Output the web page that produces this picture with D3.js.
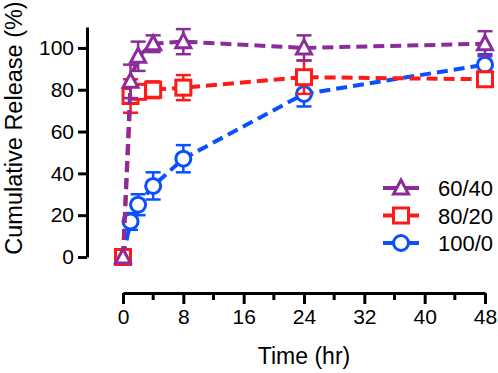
<!DOCTYPE html>
<html>
<head>
<meta charset="utf-8">
<script src="https://cdn.jsdelivr.net/npm/d3@7"></script>
<style>
  body { margin: 0; background: #fff; }
  text { font-family: "Liberation Sans", Arial, sans-serif; fill: #000; }
</style>
</head>
<body>
<div id="chart"></div>
<script>
// time points (hr)
const times = [0, 1, 2, 4, 8, 24, 48];

// series values (mean, sd)
const release6040 = [0, 84, 96, 102, 103, 100, 102];
const sd6040 = [0, 8, 7, 4, 6, 6, 6];
const release8020 = [0, 77, 79, 80, 81, 86, 85];
const sd8020 = [0, 8, 3, 4, 6, 8, 3];
const release1000 = [0, 17, 25, 34, 47, 78, 92];
const sd1000 = [0, 4, 5, 6.5, 6.5, 6, 5];

const seriesNames = ["60/40", "80/20", "100/0"];
const xTicks = [0, 8, 16, 24, 32, 40, 48];
const xMinorTicks = [4, 12, 20, 28, 36, 44];
const yTicks = [0, 20, 40, 60, 80, 100];

const width = 498, height = 373;

// drawing order: blue under red under purple
const series = [
  {name: seriesNames[2], values: release1000, sd: sd1000, color: "#0a50ff", shape: "circle"},
  {name: seriesNames[1], values: release8020, sd: sd8020, color: "#ff1a1a", shape: "square"},
  {name: seriesNames[0], values: release6040, sd: sd6040, color: "#8b2c9a", shape: "triangle"}
];
const legendOrder = [series[2], series[1], series[0]];

const svg = d3.select("#chart").append("svg")
  .attr("width", width)
  .attr("height", height);

const x = d3.scaleLinear().domain([0, 48]).range([123, 485]);
const y = d3.scaleLinear().domain([0, 110]).range([257, 27]);
const xAxisY = 293, yAxisX = 87;

// y axis
const yAxis = svg.append("g")
  .attr("transform", `translate(${yAxisX},0)`)
  .call(d3.axisLeft(y).tickValues(yTicks).tickSize(9).tickPadding(4).tickSizeOuter(0));
yAxis.select(".domain").attr("stroke-width", 3).attr("stroke", "#000");
yAxis.selectAll(".tick line").attr("stroke-width", 3);
yAxis.selectAll(".tick text").attr("font-size", 21).attr("font-family", "Liberation Sans, Arial, sans-serif");

// x axis
const xAxis = svg.append("g")
  .attr("transform", `translate(0,${xAxisY})`)
  .call(d3.axisBottom(x).tickValues(xTicks).tickSize(11).tickPadding(5).tickSizeOuter(0));
xAxis.select(".domain").attr("stroke-width", 3).attr("stroke", "#000");
xAxis.selectAll(".tick line").attr("stroke-width", 3);
xAxis.selectAll(".tick text").attr("font-size", 21).attr("font-family", "Liberation Sans, Arial, sans-serif");

svg.append("g")
  .selectAll("line")
  .data(xMinorTicks)
  .join("line")
  .attr("x1", d => x(d)).attr("x2", d => x(d))
  .attr("y1", xAxisY).attr("y2", xAxisY + 7)
  .attr("stroke", "#000").attr("stroke-width", 3);

// axis titles
svg.append("text")
  .attr("x", x(24)).attr("y", 364)
  .attr("text-anchor", "middle")
  .attr("font-size", 23)
  .text("Time (hr)");

svg.append("text")
  .attr("transform", `translate(22,128) rotate(-90)`)
  .attr("text-anchor", "middle")
  .attr("font-size", 23.5)
  .text("Cumulative Release (%)");

function drawMarker(g, shape, color) {
  if (shape === "triangle") {
    g.append("path").attr("d", "M0,-8L7.5,6L-7.5,6Z");
  } else if (shape === "square") {
    g.append("rect").attr("x", -7.5).attr("y", -7.5).attr("width", 15).attr("height", 15);
  } else {
    g.append("circle").attr("r", 7.5);
  }
  g.selectAll("path,rect,circle")
    .attr("fill", "#fff")
    .attr("stroke", color)
    .attr("stroke-width", 3);
}

const line = d3.line().x(d => x(d.t)).y(d => y(d.v));

series.forEach(s => {
  const pts = times.map((t, i) => ({t, v: s.values[i], sd: s.sd[i]}));
  const g = svg.append("g");

  g.append("path")
    .datum(pts)
    .attr("d", line)
    .attr("fill", "none")
    .attr("stroke", s.color)
    .attr("stroke-width", 4)
    .attr("stroke-dasharray", "11,6");

  // error bars
  const eb = g.selectAll(".eb").data(pts.filter(d => d.sd > 0)).join("g");
  eb.append("line")
    .attr("x1", d => x(d.t)).attr("x2", d => x(d.t))
    .attr("y1", d => y(d.v + d.sd)).attr("y2", d => y(d.v - d.sd));
  eb.append("line")
    .attr("x1", d => x(d.t) - 7.5).attr("x2", d => x(d.t) + 7.5)
    .attr("y1", d => y(d.v + d.sd)).attr("y2", d => y(d.v + d.sd));
  eb.append("line")
    .attr("x1", d => x(d.t) - 7.5).attr("x2", d => x(d.t) + 7.5)
    .attr("y1", d => y(d.v - d.sd)).attr("y2", d => y(d.v - d.sd));
  eb.selectAll("line").attr("stroke", s.color).attr("stroke-width", 2.5);

  g.selectAll(".mk").data(pts).join("g")
    .attr("transform", d => `translate(${x(d.t)},${y(d.v)})`)
    .each(function() { drawMarker(d3.select(this), s.shape, s.color); });
});

// legend
const legend = svg.append("g").attr("transform", "translate(383,188)");
legendOrder.forEach((s, i) => {
  const row = legend.append("g").attr("transform", `translate(0,${i * 27.5})`);
  row.append("line")
    .attr("x1", 0).attr("x2", 36).attr("y1", 0).attr("y2", 0)
    .attr("stroke", s.color).attr("stroke-width", 4);
  const m = row.append("g").attr("transform", "translate(18,0)");
  drawMarker(m, s.shape, s.color);
  row.append("text")
    .attr("x", 55).attr("y", 8)
    .attr("font-size", 22)
    .text(s.name);
});
</script>
</body>
</html>
